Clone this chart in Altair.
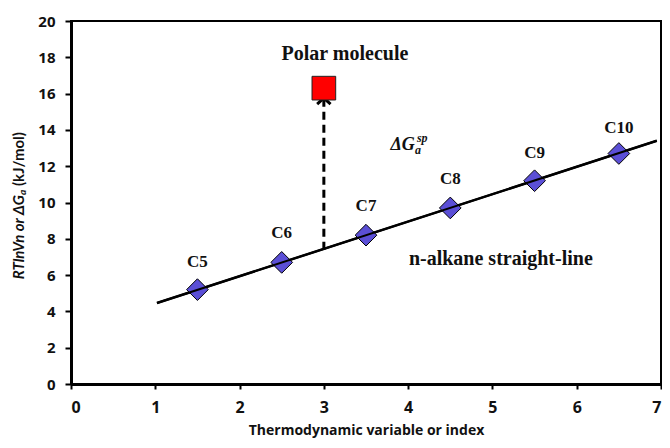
import altair as alt
import pandas as pd

# data
labels = ["C5", "C6", "C7", "C8", "C9", "C10"]
xs = [1.5, 2.5, 3.5, 4.5, 5.5, 6.5]
ys = [5.2, 6.7, 8.2, 9.7, 11.2, 12.7]
label_ys = [6.7, 8.3, 9.8, 11.3, 12.7, 14.1]
line_x = [1.02, 6.95]
line_y = [4.46, 13.4]
polar_x = [3.0]
polar_y = [16.3]
arrow_x = [3.0, 3.0]
arrow_y = [7.4, 15.7]
arrow_tip_y = [15.75]
x_ticks = [0, 1, 2, 3, 4, 5, 6, 7]
y_ticks = [0, 2, 4, 6, 8, 10, 12, 14, 16, 18, 20]

pts = pd.DataFrame({"x": xs, "y": ys})
lab_df = pd.DataFrame({"x": xs, "y": label_ys, "label": labels})
line_df = pd.DataFrame({"x": line_x, "y": line_y})
polar_df = pd.DataFrame({"x": polar_x, "y": polar_y})
arrow_df = pd.DataFrame({"x": arrow_x, "y": arrow_y})
tip_df = pd.DataFrame({"x": [arrow_x[0]], "y": arrow_tip_y})
ann_df = pd.DataFrame({
    "x": [3.25, 5.1],
    "y": [18.2, 6.9],
    "t": ["Polar molecule", "n-alkane straight-line"],
})
dg_df = pd.DataFrame({"x": [4.08], "y": [13.15]})

xscale = alt.Scale(domain=[0, 7], nice=False, zero=False)
yscale = alt.Scale(domain=[0, 20], nice=False, zero=False)

X = alt.X("x:Q", scale=xscale, axis=alt.Axis(
    values=x_ticks, title="Thermodynamic variable or index",
    format="d", grid=False, domainColor="black", domainWidth=3,
    tickColor="black", tickWidth=2, tickSize=5, labelFontSize=16,
    labelFont="Open Sans", labelFontWeight="bold", labelColor="#111",
    labelPadding=10, labelOverlap=False, titleFont="Open Sans", titleFontSize=14,
    titleFontWeight="bold", titleColor="#111", titlePadding=8))
Y = alt.Y("y:Q", scale=yscale, axis=alt.Axis(
    values=y_ticks, title=None, grid=False, format="d",
    domainColor="black", domainWidth=3, tickColor="black", tickWidth=2,
    tickSize=6, labelFontSize=15, labelFont="Open Sans",
    labelFontWeight="bold", labelColor="#111", labelPadding=10,
    labelOverlap=False))

base_line = alt.Chart(line_df).mark_line(color="black", strokeWidth=2.5)

diamonds = alt.Chart(pts).mark_point(
    shape="diamond", filled=True, size=470, fill="#5B4FD6",
    stroke="black", strokeWidth=1, opacity=1
)

line_over = alt.Chart(line_df).mark_line(color="black", strokeWidth=2)

clabels = alt.Chart(lab_df).mark_text(
    font="Liberation Serif", fontWeight="bold", fontSize=17, color="#111"
).encode(text="label:N")

arrow = alt.Chart(arrow_df).mark_line(
    color="black", strokeWidth=3, strokeDash=[8, 5]
)

tip = alt.Chart(tip_df).mark_point(
    shape="M -1 0.9 L 0 0 L 1 0.9", filled=False, size=180,
    stroke="black", strokeWidth=3, opacity=1
)

polar = alt.Chart(polar_df).mark_point(
    shape="square", filled=True, size=560, fill="#FF0000",
    stroke="#222", strokeWidth=1, opacity=1
)

ann = alt.Chart(ann_df).mark_text(
    font="Liberation Serif", fontWeight="bold", fontSize=20, color="#111"
).encode(text="t:N")

dg_main = alt.Chart(dg_df).mark_text(
    font="Liberation Serif", fontWeight="bold", fontStyle="italic",
    fontSize=18, color="#111", align="right", baseline="middle"
).encode(text=alt.value("ΔG"))
dg_sub = alt.Chart(dg_df).mark_text(
    font="Liberation Serif", fontWeight="bold", fontStyle="italic",
    fontSize=12, color="#111", align="left", baseline="middle", dx=0, dy=5
).encode(text=alt.value("a"))
dg_sup = alt.Chart(dg_df).mark_text(
    font="Liberation Serif", fontWeight="bold", fontStyle="italic",
    fontSize=12, color="#111", align="left", baseline="middle", dx=2, dy=-7
).encode(text=alt.value("sp"))

yt1 = alt.Chart(dg_df).mark_text(
    font="Lato", fontWeight="bold", fontStyle="italic", fontSize=15,
    color="#111", align="right", baseline="middle", angle=270
).encode(x=alt.value(-52), y=alt.value(174), text=alt.value("RTlnVn or ΔG"))
yt2 = alt.Chart(dg_df).mark_text(
    font="Lato", fontWeight="bold", fontStyle="italic", fontSize=10,
    color="#111", align="left", baseline="middle", angle=270, dx=0, dy=4
).encode(x=alt.value(-52), y=alt.value(174), text=alt.value("a"))
yt3 = alt.Chart(dg_df).mark_text(
    font="Lato", fontWeight="bold", fontSize=15,
    color="#111", align="left", baseline="middle", angle=270, dx=9
).encode(x=alt.value(-52), y=alt.value(174), text=alt.value("(kJ/mol)"))

chart = alt.layer(
    base_line, arrow, tip, diamonds, line_over, clabels, polar, ann,
    dg_main, dg_sub, dg_sup, yt1, yt2, yt3
).encode(x=X, y=Y).properties(
    width=590, height=363,
    autosize=alt.AutoSizeParams(type="none"),
    padding={"left": 63, "top": 13, "right": 1, "bottom": 56},
    background="white",
).configure_view(stroke="black", strokeWidth=2).configure_axis(labelOverlap=False)

chart.save("out.html", embed_options={"renderer": "svg", "actions": False})
